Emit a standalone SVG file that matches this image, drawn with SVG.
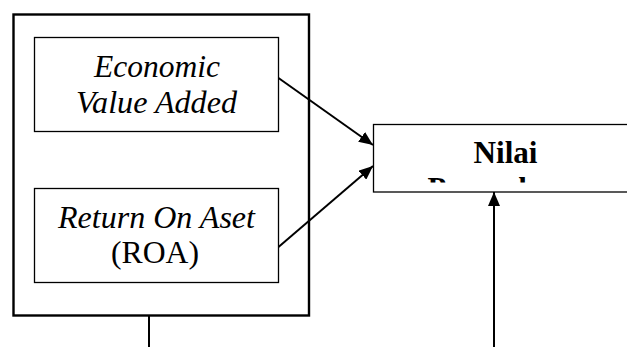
<svg xmlns="http://www.w3.org/2000/svg" width="627" height="347" viewBox="0 0 627 347">
<style>
.box{fill:#fff;stroke:#000;stroke-width:1.3}
.outer{fill:#fff;stroke:#000;stroke-width:2.4}
.t{font-family:"Liberation Serif","Times New Roman",serif;font-size:32px;fill:#000;text-anchor:middle}
.i{font-style:italic}
.b{font-weight:bold}
.c{stroke:#000;stroke-width:2;fill:none}
</style>
<defs>
<marker id="ah" viewBox="0 0 14 12" refX="14" refY="6" markerWidth="14" markerHeight="12" markerUnits="userSpaceOnUse" orient="auto">
<path d="M0,0 L14,6 L0,12 Z" fill="#000"/>
</marker>
<clipPath id="nclip"><rect x="373" y="124" width="270" height="58.5"/></clipPath>
</defs>
<g id="group-outer">
<rect class="outer" x="13.5" y="14.5" width="295.5" height="301"/>
</g>
<g id="node-eva">
<rect class="box" x="34.5" y="37.5" width="244" height="94"/>
<text class="t i" x="157" y="77" textLength="126" lengthAdjust="spacingAndGlyphs">Economic</text>
<text class="t i" x="156.5" y="113" textLength="161" lengthAdjust="spacingAndGlyphs">Value Added</text>
</g>
<g id="node-roa">
<rect class="box" x="34.5" y="188.5" width="244" height="94"/>
<text class="t i" x="156.5" y="228" textLength="197" lengthAdjust="spacingAndGlyphs">Return On Aset</text>
<text class="t" x="155" y="263" textLength="88" lengthAdjust="spacingAndGlyphs">(ROA)</text>
</g>
<g id="node-nilai">
<rect class="box" x="373.5" y="124.5" width="270" height="67.5"/>
<g clip-path="url(#nclip)">
<text class="t b" x="505.5" y="163" textLength="64" lengthAdjust="spacingAndGlyphs">Nilai</text>
<text class="t b" x="505.5" y="199" textLength="156" lengthAdjust="spacingAndGlyphs">Perusahaan</text>
</g>
</g>
<g id="connectors">
<line class="c" x1="278.5" y1="78" x2="373" y2="145" marker-end="url(#ah)"/>
<line class="c" x1="278.5" y1="247" x2="373" y2="166" marker-end="url(#ah)"/>
<line class="c" x1="494" y1="347" x2="494" y2="192" marker-end="url(#ah)"/>
<line class="c" x1="149" y1="316" x2="149" y2="347"/>
</g>
</svg>
